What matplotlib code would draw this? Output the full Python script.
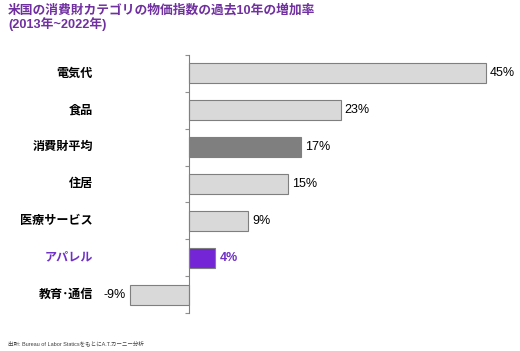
import numpy as np
import matplotlib.pyplot as plt

plt.rcParams['font.family'] = ['Liberation Sans', 'Noto Sans CJK JP', 'DejaVu Sans']

# data
categories = ['電気代', '食品', '消費財平均', '住居', '医療サービス', 'アパレル', '教育･通信']
values = [45, 23, 17, 15, 9, 4, -9]
labels = ['45%', '23%', '17%', '15%', '9%', '4%', '-9%']

purple = '#7030c8'
bar_colors = ['#d9d9d9', '#d9d9d9', '#7f7f7f', '#d9d9d9', '#d9d9d9', '#7426d6', '#d9d9d9']
text_colors = ['black'] * 5 + [purple, 'black']
label_weights = ['normal'] * 5 + ['bold', 'normal']

fig = plt.figure(figsize=(5.2, 3.51), dpi=100)
ax = fig.add_axes([120 / 520, 1 - 313 / 351, 380 / 520, 258 / 351])

y = np.arange(len(categories))
ax.barh(y, values, height=0.54, color=bar_colors, edgecolor='#7f7f7f', linewidth=0.8)

ax.set_xlim(-69 / 6.6, 311 / 6.6)
ax.set_ylim(6.5, -0.5)

for s in ['top', 'right', 'bottom']:
    ax.spines[s].set_visible(False)
ax.spines['left'].set_position(('data', 0))
ax.spines['left'].set_color('#808080')
ax.spines['left'].set_linewidth(0.8)
ax.set_xticks([])
ax.set_yticks(np.arange(-0.5, 7, 1))
ax.set_yticklabels([])
ax.tick_params(axis='y', length=3, width=0.8, color='#909090')

tr = ax.get_yaxis_transform()
for i, (c, v, l) in enumerate(zip(categories, values, labels)):
    ax.text(-27 / 380, i, c, transform=tr, ha='right', va='center',
            fontsize=8.7, fontweight='bold', color=text_colors[i])
    if v >= 0:
        ax.text(v + 0.6, i, l, ha='left', va='center', fontsize=9,
                color=text_colors[i], fontweight=label_weights[i], clip_on=False)
    else:
        ax.text(v - 0.6, i, l, ha='right', va='center', fontsize=9,
                color=text_colors[i], clip_on=False)

fig.text(8 / 520, 1 - 4 / 351, '米国の消費財カテゴリの物価指数の過去10年の増加率\n(2013年~2022年)',
         ha='left', va='top', fontsize=9.2, fontweight='bold', color='#7030a0',
         linespacing=1.05)

fig.text(8 / 520, 1 - 343 / 351, '出所: Bureau of Labor StaticsをもとにA.T.カーニー分析',
         ha='left', va='center', fontsize=4, color='#404040')

fig.savefig('out.png', dpi=100)
